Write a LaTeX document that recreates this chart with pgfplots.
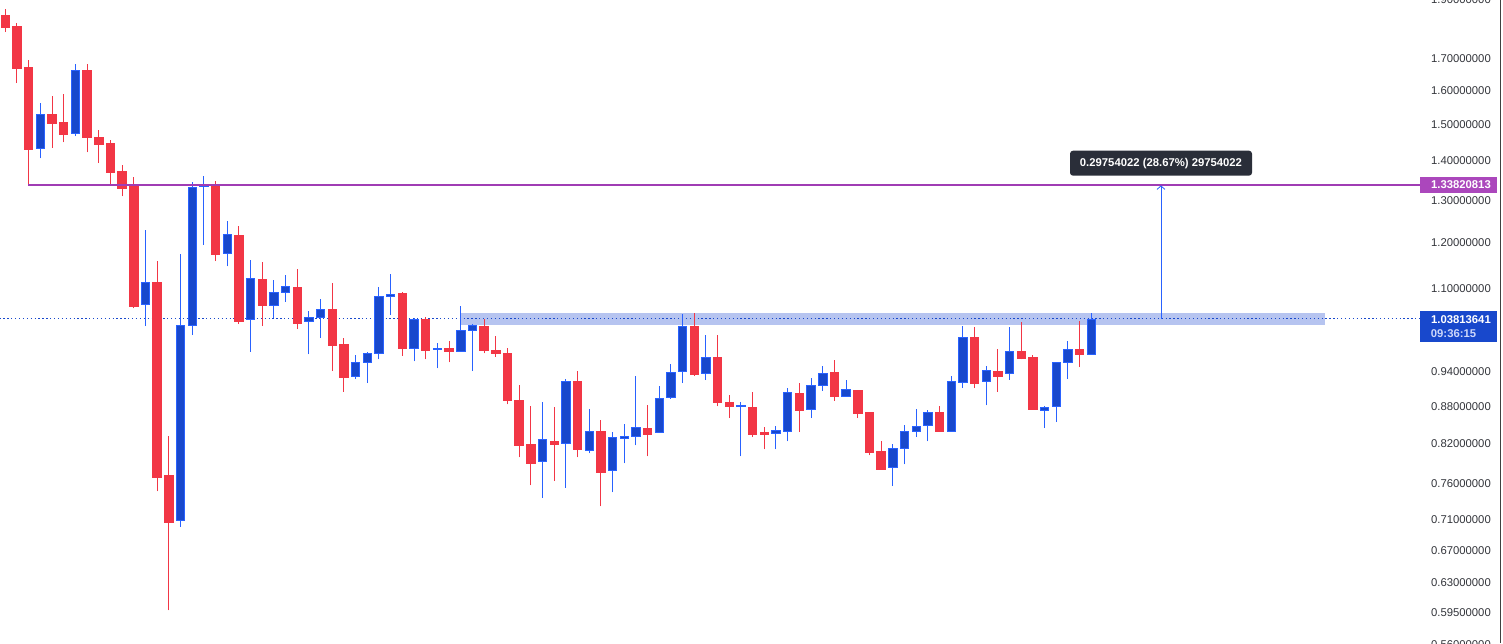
\documentclass[border=0pt]{standalone}
\usepackage{fontspec}
\setmainfont{Liberation Sans}
\usepackage{pgfplots}
\usepackage{pgfplotstable}
\pgfplotsset{compat=1.18}
\usetikzlibrary{arrows.meta}
\definecolor{tvred}{RGB}{242,54,69}
\definecolor{tvblue}{RGB}{24,72,204}
\definecolor{tvblueline}{RGB}{41,98,255}
\definecolor{tvpurple}{RGB}{160,60,180}
\definecolor{tvpurplelab}{RGB}{171,71,188}
\definecolor{zone}{RGB}{182,196,240}
\definecolor{tipbg}{RGB}{42,46,57}
\definecolor{ticktext}{RGB}{50,52,58}
\definecolor{timetext}{RGB}{205,215,250}

\pgfplotstableread{
i o h l c
0 1.8451 1.8691 1.7877 1.8049
1 1.8073 1.8176 1.6230 1.6699
2 1.6721 1.6971 1.3396 1.4309
3 1.4348 1.5636 1.4075 1.5286
4 1.5286 1.5846 1.4365 1.5047
5 1.5067 1.5908 1.4508 1.4735
6 1.4746 1.6814 1.4678 1.6618
7 1.6627 1.6814 1.4230 1.4650
8 1.4641 1.4840 1.3946 1.4451
9 1.4471 1.4564 1.3396 1.3713
10 1.3732 1.3887 1.3093 1.3300
11 1.3344 1.3577 1.0593 1.0632
12 1.0678 1.2279 1.0243 1.1119
13 1.1119 1.1575 0.7490 0.7694
14 0.7719 0.8309 0.5978 0.7066
15 0.7084 1.1746 0.6999 1.0257
16 1.0251 1.3447 1.0068 1.3310
17 1.3336 1.3602 1.1950 1.3378
18 1.3378 1.3473 1.1582 1.1731
19 1.1761 1.2491 1.1468 1.2178
20 1.2161 1.2373 1.0282 1.0340
21 1.0367 1.1618 0.9760 1.1205
22 1.1184 1.1554 1.0243 1.0651
23 1.0659 1.1169 1.0399 1.0927
24 1.0927 1.1276 1.0729 1.1034
25 1.1019 1.1404 1.0185 1.0301
26 1.0329 1.0548 0.9707 1.0406
27 1.0406 1.0783 1.0010 1.0562
28 1.0568 1.1104 0.9406 0.9874
29 0.9887 1.0004 0.9043 0.9300
30 0.9307 0.9702 0.9264 0.9555
31 0.9555 0.9755 0.9194 0.9732
32 0.9732 1.1019 0.9618 1.0833
33 1.0841 1.1297 1.0457 1.0884
34 1.0890 1.0933 0.9684 0.9815
35 0.9823 1.0406 0.9578 1.0367
36 1.0373 1.0412 0.9618 0.9778
37 0.9796 0.9926 0.9454 0.9809
38 0.9809 0.9951 0.9560 0.9760
39 0.9767 1.0645 0.9767 1.0154
40 1.0154 1.0290 0.9406 1.0251
41 1.0237 1.0387 0.9725 0.9778
42 0.9790 1.0043 0.9666 0.9725
43 0.9719 0.9829 0.8829 0.8894
44 0.8905 0.9153 0.7987 0.8169
45 0.8181 0.8808 0.7577 0.7899
46 0.7920 0.8873 0.7402 0.8256
47 0.8229 0.8792 0.7636 0.8185
48 0.8208 0.9259 0.7538 0.9218
49 0.9224 0.9401 0.7987 0.8108
50 0.8096 0.8760 0.8046 0.8385
51 0.8385 0.8567 0.7279 0.7768
52 0.7788 0.8374 0.7474 0.8288
53 0.8272 0.8503 0.7899 0.8305
54 0.8309 0.9312 0.8169 0.8449
55 0.8433 0.8825 0.8002 0.8346
56 0.8369 0.9135 0.8369 0.8935
57 0.8946 0.9525 0.8923 0.9378
58 0.9401 1.0470 0.9194 1.0231
59 1.0231 1.0503 0.9317 0.9353
60 0.9360 1.0062 0.9247 0.9643
61 0.9643 1.0062 0.8797 0.8862
62 0.8868 0.8994 0.8604 0.8797
63 0.8797 0.8873 0.8002 0.8820
64 0.8776 0.9047 0.8298 0.8346
65 0.8369 0.8454 0.8108 0.8346
66 0.8353 0.8470 0.8108 0.8401
67 0.8385 0.9112 0.8234 0.9041
68 0.9024 0.9188 0.8379 0.8733
69 0.8739 0.9277 0.8604 0.9148
70 0.9148 0.9489 0.9061 0.9360
71 0.9383 0.9613 0.8894 0.8963
72 0.8971 0.9241 0.8971 0.9077
73 0.9064 0.9082 0.8604 0.8684
74 0.8691 0.8691 0.8017 0.8060
75 0.8071 0.8245 0.7812 0.7812
76 0.7832 0.8197 0.7563 0.8119
77 0.8119 0.8486 0.7885 0.8385
78 0.8385 0.8760 0.8298 0.8466
79 0.8482 0.8744 0.8234 0.8691
80 0.8691 0.8808 0.8395 0.8395
81 0.8385 0.9312 0.8385 0.9218
82 0.9201 1.0237 0.9105 1.0018
83 1.0018 1.0218 0.9105 0.9194
84 0.9218 0.9489 0.8813 0.9413
85 0.9395 0.9809 0.9043 0.9317
86 0.9360 1.0218 0.9254 0.9767
87 0.9767 1.0315 0.9618 0.9636
88 0.9643 0.9696 0.8749 0.8749
89 0.8723 0.8804 0.8443 0.8788
90 0.8804 0.9572 0.8540 0.9555
91 0.9555 0.9959 0.9264 0.9804
92 0.9804 1.0334 0.9477 0.9707
93 0.9714 1.0509 0.9714 1.03813641
}\candles

\begin{document}
\begin{tikzpicture}
\begin{axis}[
  at={(0pt,0pt)}, anchor=south west,
  scale only axis, width=1503pt, height=643pt,
  xmin=-0.454, xmax=128.26,
  ymode=log, ymin=0.56191, ymax=1.8999,
  axis line style={draw=none},
  xtick=\empty,
  ytick={0.595,0.63,0.67,0.71,0.76,0.82,0.88,0.94,1.1,1.2,1.3,1.4,1.5,1.6,1.7},
  yticklabels={0.59500000,0.63000000,0.67000000,0.71000000,0.76000000,0.82000000,0.88000000,0.94000000,1.10000000,1.20000000,1.30000000,1.40000000,1.50000000,1.60000000,1.70000000},
  yticklabel pos=right,
  major tick length=0pt, minor tick length=0pt,
  yticklabel style={anchor=east, xshift=-12pt, inner sep=0pt,
    font=\fontsize{11.3}{13}\selectfont, text=ticktext},
]
% resistance zone
\addplot[fill=zone, draw=none, forget plot] coordinates
  {(38.94,1.0257) (113.02,1.0257) (113.02,1.0509) (38.94,1.0509)} -- cycle;
% current price line
\addplot[tvblue, line width=1pt, dash pattern=on 1.3pt off 2.6pt, forget plot] coordinates
  {(-0.5,1.03813641) (121.15,1.03813641)};
% candles
\pgfplotstablegetrowsof{\candles}
\pgfmathtruncatemacro{\lastrow}{\pgfplotsretval-1}
\pgfplotsforeachungrouped \ii in {0,...,\lastrow}{%
  \pgfplotstablegetelem{\ii}{o}\of\candles \let\cO\pgfplotsretval
  \pgfplotstablegetelem{\ii}{h}\of\candles \let\cH\pgfplotsretval
  \pgfplotstablegetelem{\ii}{l}\of\candles \let\cL\pgfplotsretval
  \pgfplotstablegetelem{\ii}{c}\of\candles \let\cC\pgfplotsretval
  \pgfmathsetmacro{\xa}{\ii-0.36}%
  \pgfmathsetmacro{\xb}{\ii+0.36}%
  \ifdim\cC pt<\cO pt
    \def\cwk{tvred}\def\cfl{tvred}\def\cbd{tvred}%
  \else
    \def\cwk{tvblueline}\def\cfl{tvblue}\def\cbd{tvblueline}%
  \fi
  \edef\doit{%
    \noexpand\addplot[draw=\cwk, line width=1pt, forget plot] coordinates {(\ii,\cL) (\ii,\cH)};
    \noexpand\addplot[draw=\cbd, fill=\cfl, line width=0.8pt, forget plot] coordinates {(\xa,\cO) (\xb,\cO) (\xb,\cC) (\xa,\cC)} -- cycle;
  }%
  \doit
}
% horizontal level
\addplot[tvpurple, line width=1.8pt, forget plot] coordinates
  {(1.95,1.33820813) (121.15,1.33820813)};
% measure arrow
\addplot[tvblueline, line width=0.8pt, -{Straight Barb[length=3.5pt,width=8pt]}, forget plot] coordinates
  {(98.97,1.03813641) (98.97,1.3370)};
\end{axis}
% price-scale labels cut by the picture's edges
\node[anchor=east, inner sep=0pt, text=ticktext, font=\fontsize{11.3}{13}\selectfont] at (1491pt,643pt) {1.90000000};
\node[anchor=east, inner sep=0pt, text=ticktext, font=\fontsize{11.3}{13}\selectfont] at (1491pt,-1.8pt) {0.56000000};
% right border of price scale
\draw[line width=1pt, black!75] (1500.5pt,0pt) -- (1500.5pt,643pt);
% measure tooltip
\node[fill=tipbg, rounded corners=3pt, minimum width=182pt, minimum height=25pt, inner sep=0pt,
  text=white, font=\fontsize{11.3}{13}\selectfont\bfseries] at (1161pt,479.8pt)
  {0.29754022 (28.67\%) 29754022};
% purple price label
\fill[tvpurplelab] (1420pt,450.3pt) rectangle (1497pt,466.3pt);
\node[anchor=east, inner sep=0pt, text=white, font=\fontsize{11.3}{13}\selectfont\bfseries] at (1491pt,458.3pt) {1.33820813};
% current price label
\fill[tvblue] (1420pt,301pt) rectangle (1497pt,332pt);
\node[anchor=east, inner sep=0pt, text=white, font=\fontsize{11.3}{13}\selectfont\bfseries] at (1491pt,323.5pt) {1.03813641};
\node[anchor=west, inner sep=0pt, text=timetext, font=\fontsize{11.3}{13}\selectfont\bfseries] at (1430.7pt,309pt) {09:36:15};
\pgfresetboundingbox
\path[use as bounding box] (0pt,0pt) rectangle (1503pt,643pt);
\end{tikzpicture}
\end{document}
